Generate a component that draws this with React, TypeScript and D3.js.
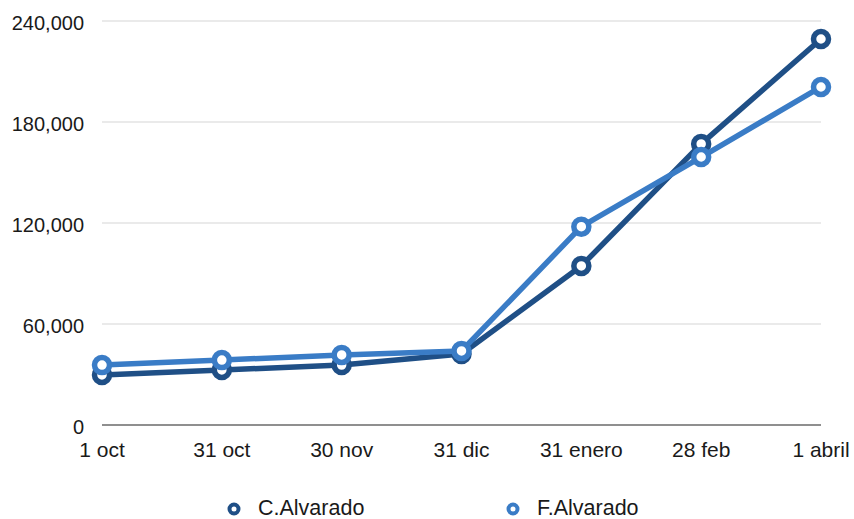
import React from "react";
import * as d3 from "d3";

const categories = ["1 oct", "31 oct", "30 nov", "31 dic", "31 enero", "28 feb", "1 abril"];
const cAlvarado = [29700, 32700, 35600, 42200, 94500, 167000, 229300];
const fAlvarado = [35600, 38600, 41600, 44000, 117800, 159200, 200800];
const yTicks = [0, 60000, 120000, 180000, 240000];
const seriesNames = ["C.Alvarado", "F.Alvarado"];

const W = 854;
const H = 519;
const colors = ["#1f4f86", "#3a7cc6"];
const font = "'Liberation Sans', Arial, Helvetica, sans-serif";

export default function App() {
  const x = d3.scalePoint<string>().domain(categories).range([102, 821]);
  const y = d3.scaleLinear().domain([0, 240000]).range([425, 21]);
  const fmt = d3.format(",");
  const line = d3
    .line<number>()
    .x((_, i) => x(categories[i]) as number)
    .y((d) => y(d));
  const series = [cAlvarado, fAlvarado];

  return (
    <svg width={W} height={H} style={{ position: "absolute", left: 0, top: 0 }}>
      <rect width={W} height={H} fill="#fff" />
      {yTicks.map((t) => (
        <g key={t}>
          <line
            x1={102}
            x2={821}
            y1={y(t)}
            y2={y(t)}
            stroke={t === 0 ? "#6a6a6a" : "#d6d6d6"}
            strokeWidth={t === 0 ? 1.3 : 1.2}
          />
          <text
            x={84}
            y={y(t) + 8.5}
            textAnchor="end"
            fontFamily={font}
            fontSize={20}
            fill="#1a1a1a"
          >
            {fmt(t)}
          </text>
        </g>
      ))}
      {categories.map((c) => (
        <text
          key={c}
          x={x(c)}
          y={457}
          textAnchor="middle"
          fontFamily={font}
          fontSize={21}
          fill="#1a1a1a"
        >
          {c}
        </text>
      ))}
      {series.map((s, si) => (
        <g key={si}>
          <path d={line(s) || ""} fill="none" stroke={colors[si]} strokeWidth={5.5} strokeLinejoin="round" />
          {s.map((v, i) => (
            <circle
              key={i}
              cx={x(categories[i])}
              cy={y(v)}
              r={7.5}
              fill="#fff"
              stroke={colors[si]}
              strokeWidth={5.5}
            />
          ))}
        </g>
      ))}
      {seriesNames.map((n, i) => {
        const lx = i === 0 ? 234 : 513;
        return (
          <g key={n}>
            <circle cx={lx} cy={509} r={4.5} fill="#fff" stroke={colors[i]} strokeWidth={4} />
            <text x={lx + 24} y={514.5} fontFamily={font} fontSize={21.5} fill="#1a1a1a">
              {n}
            </text>
          </g>
        );
      })}
    </svg>
  );
}
